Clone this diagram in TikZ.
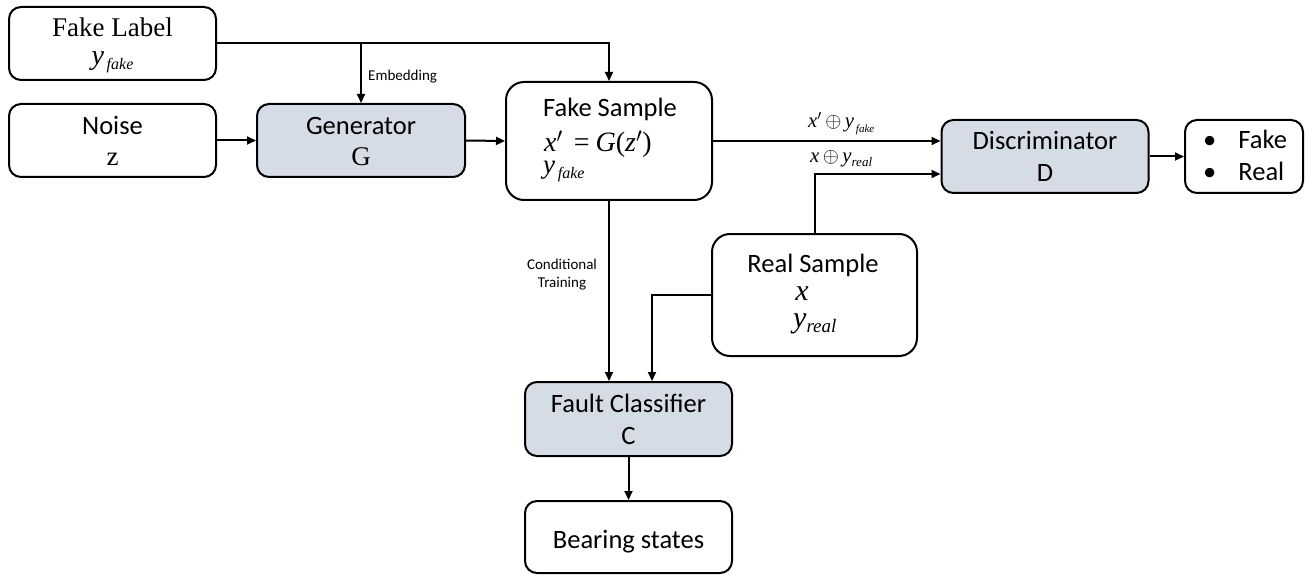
\documentclass[tikz,border=0pt]{standalone}
\usepackage{fontspec}
\setmainfont{Liberation Serif}
\newfontfamily\carlito{Carlito}
\usetikzlibrary{arrows.meta}
\definecolor{boxfill}{HTML}{D6DCE5}
\newcommand{\fs}[1]{\fontsize{#1}{#1}\selectfont}
\begin{document}
\begin{tikzpicture}[x=1pt,y=-1pt,
  box/.style={draw, line width=2pt, rounded corners=12pt, inner sep=0pt},
  gbox/.style={box, fill=boxfill},
  arr/.style={line width=2pt, -{Triangle[length=9pt,width=8pt]}},
  lbl/.style={inner sep=0pt, anchor=base},
  sans/.style={font=\carlito\fs{26.5}}]
\useasboundingbox (0,0) rectangle (1310,575);
% boxes
\node[box, minimum width=207pt, minimum height=73pt] (fl) at (112.5,43.5) {};
\node[box, minimum width=207pt, minimum height=73pt] (noise) at (112.5,140.5) {};
\node[gbox, minimum width=208pt, minimum height=73pt] (gen) at (361,140.5) {};
\node[box, rounded corners=18pt, minimum width=206pt, minimum height=118pt] (fsm) at (609,141) {};
\node[gbox, minimum width=207pt, minimum height=73pt] (disc) at (1045,156.5) {};
\node[box, minimum width=118pt, minimum height=73pt] (fr) at (1244,156.5) {};
\node[box, rounded corners=18pt, minimum width=205pt, minimum height=122pt] (rs) at (814.5,295) {};
\node[gbox, minimum width=207pt, minimum height=74pt] (fc) at (628.5,419) {};
\node[box, minimum width=207pt, minimum height=72pt] (bs) at (628.5,537) {};
% texts
\node[lbl, font=\fs{27}] (t1) at (112.5,37) {Fake Label};
\node[lbl] (t2) at (112.5,65) {{\fs{28}\textit{y}}\raisebox{-5pt}{\fs{16}\textit{\,fake}}};
\node[lbl, sans] (t3) at (112.5,135) {Noise};
\node[lbl, font=\fs{27}] (t4) at (112.5,166) {z};
\node[lbl, sans] (t5) at (361,135) {Generator};
\node[lbl, font=\fs{27}] (t6) at (361,166) {G};
\node[lbl, sans, anchor=base west] (t7) at (543,117) {Fake Sample};
\node[lbl, font=\fs{28}, anchor=base west] (t8) at (544,152) {\textit{x}$'$\hspace{11pt}=\hspace{6pt}\textit{G}(\textit{z}$'$)};
\node[lbl, anchor=base west] (t9) at (543,174) {{\fs{27}\textit{y}}\raisebox{-5pt}{\fs{16}\textit{\,fake}}};
\node[lbl, sans] (t10) at (1045,150) {Discriminator};
\node[lbl, sans] (t11) at (1045,182) {D};
\node[lbl, sans, anchor=base west] (t12) at (1203,149) {\textbullet\hspace{22pt}Fake};
\node[lbl, sans, anchor=base west] (t13) at (1203,181) {\textbullet\hspace{22pt}Real};
\node[lbl, sans] (t14) at (813,272) {Real Sample};
\node[lbl, font=\fs{30}] (t15) at (802,300) {\textit{x}};
\node[lbl, anchor=base west] (t16) at (793,327) {{\fs{30}\textit{y}}\raisebox{-5pt}{\fs{19}\textit{real}}};
\node[lbl, sans] (t17) at (628.5,412) {Fault Classifier};
\node[lbl, sans] (t18) at (628.5,444) {C};
\node[lbl, sans] (t19) at (628.5,548) {Bearing states};
\node[lbl, font=\carlito\fs{15}, anchor=base west] (t20) at (368,81) {Embedding};
\node[lbl, font=\carlito\fs{15}, align=center] (t21) at (562,287) {Conditional\\[3pt]Training};
\node[lbl, anchor=base west] (t22) at (808,128) {{\fs{20.74}\textit{x}$'$\,$\oplus$\,\textit{y}}\raisebox{-5pt}{\fs{11}\textit{\,fake}}};
\node[lbl, anchor=base west] (t23) at (810,163) {{\fs{20.74}\textit{x}\,$\oplus$\,\textit{y}}\raisebox{-4pt}{\fs{13}\textit{real}}};
% connectors
\coordinate (emb) at (gen.north |- fl.east);
\draw[arr] (fl.east) -| (fsm.north);
\draw[arr] (emb) -- (gen.north);
\draw[arr] (noise.east) -- (gen.west);
\draw[arr] (gen.east) -- (fsm.west);
\draw[arr] (fsm.east) -- (fsm.east -| disc.west);
\coordinate (rsup) at (814.5,174);
\draw[arr] (rs.north) -- (rsup) -- (rsup -| disc.west);
\draw[arr] (disc.east) -- (fr.west);
\draw[arr] (fsm.south) -- (fsm.south |- fc.north);
\coordinate (rsl) at (652,295);
\draw[arr] (rs.west) -- (rsl) -- (rsl |- fc.north);
\draw[arr] (fc.south) -- (bs.north);
\end{tikzpicture}
\end{document}
